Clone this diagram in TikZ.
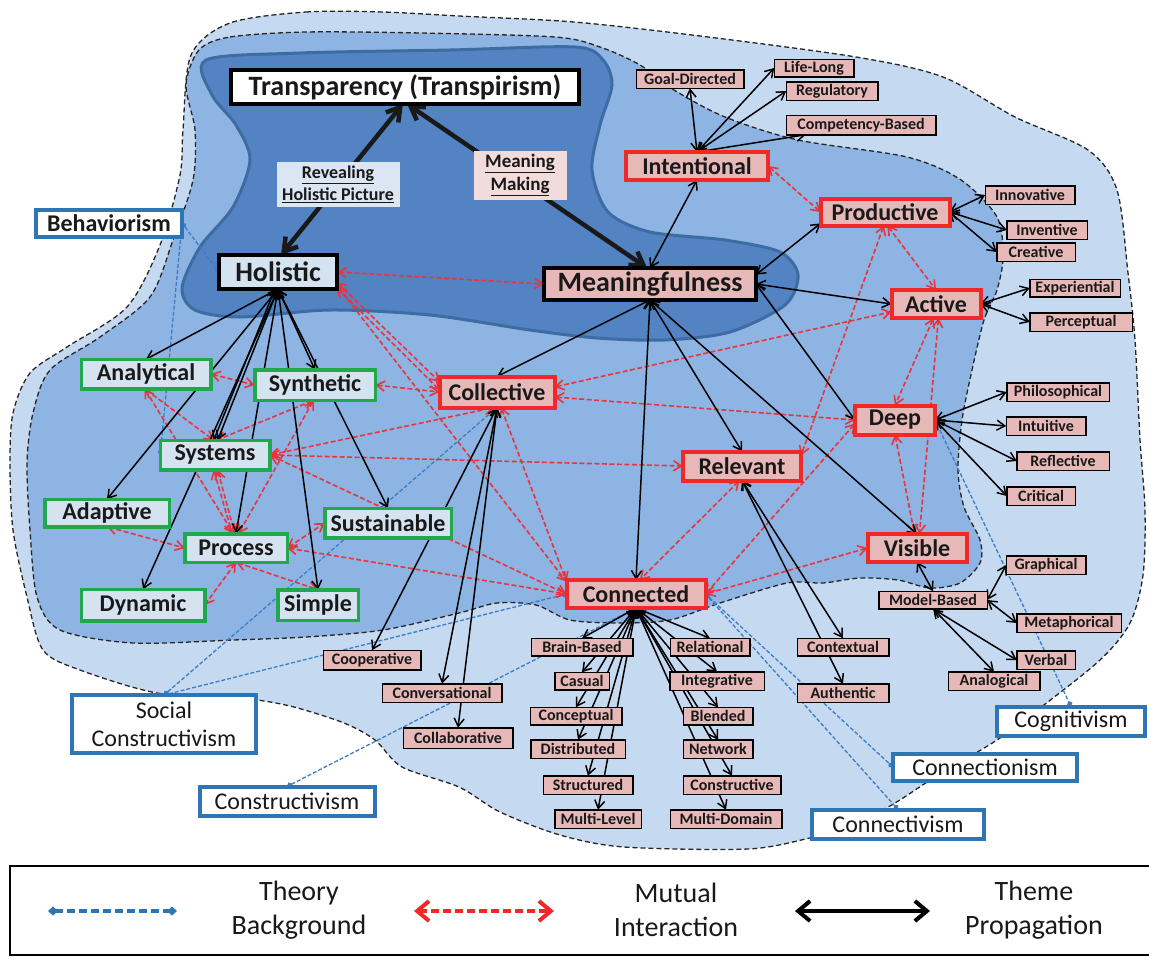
\documentclass[tikz,border=0pt]{standalone}
\usepackage{fontspec}
\setmainfont{Carlito}
\usetikzlibrary{arrows.meta}

\definecolor{outerblue}{HTML}{C5D9F1}
\definecolor{midblue}{HTML}{8EB4E3}
\definecolor{innerblue}{HTML}{5383C3}
\definecolor{inneredge}{HTML}{3D6CA3}
\definecolor{nodeblue}{HTML}{D5E3F0}
\definecolor{nodepink}{HTML}{E6B9B8}
\definecolor{lightpink}{HTML}{F2DCDB}
\definecolor{labelblue}{HTML}{DCE6F2}
\definecolor{grn}{HTML}{22A84C}
\definecolor{rd}{HTML}{F02828}
\definecolor{thblue}{HTML}{2E75B6}
\definecolor{dashred}{HTML}{E8343C}
\definecolor{dashblue}{HTML}{3A7EC6}

\pgfdeclarelayer{regions}
\pgfdeclarelayer{links}
\pgfsetlayers{regions,links,main}

\tikzset{
  every node/.style={inner sep=0pt, outer sep=0pt, align=center, text=black!90},
  sz/.style 2 args={minimum width=#1pt, minimum height=#2pt},
  bignode/.style={rectangle, draw=black, line width=4pt, font=\fontsize{28}{30}\selectfont\bfseries},
  rednode/.style={rectangle, draw=rd, fill=nodepink, line width=4pt, font=\fontsize{24}{26}\selectfont\bfseries},
  grnnode/.style={rectangle, draw=grn, fill=nodeblue, line width=3.5pt, font=\fontsize{24}{26}\selectfont\bfseries},
  smallnode/.style={rectangle, draw=black, fill=nodepink, line width=1.5pt, font=\fontsize{16}{18}\selectfont\bfseries},
  theorynode/.style={rectangle, draw=thblue, fill=white, line width=4pt, font=\fontsize{24}{28}\selectfont},
  pathlabel/.style={rectangle, font=\fontsize{18}{22}\selectfont\bfseries},
  legendtext/.style={font=\fontsize{28}{34}\selectfont},
  theme/.style={draw=black, line width=1.5pt, >={Straight Barb[length=8pt,width=10pt]}, <->},
  bigtheme/.style={draw=black!90, line width=4.5pt, >={Straight Barb[length=13pt,width=16pt]}, <->},
  mutual/.style={draw=dashred, line width=1.6pt, dash pattern=on 5pt off 2.5pt, >={Straight Barb[length=8pt,width=10pt]}, <->},
  theory/.style={draw=dashblue, line width=1.3pt, dash pattern=on 4pt off 2pt, >={Diamond[length=6pt,width=6pt]}, <->},
  region/.style={draw=black!85, line width=1.3pt, dash pattern=on 5pt off 3pt},
}

\begin{document}
\begin{tikzpicture}[x=1pt, y=-1pt]
\useasboundingbox (0,0) rectangle (1149,959);

% ---------- nested regions ----------
\begin{pgfonlayer}{regions}
\draw[region, fill=outerblue] plot[smooth cycle, tension=0.5] coordinates {
 (230,23) (306,12) (383,12) (459,16) (574,22) (700,36) (856,57) (943,77)
 (1015,117) (1088,150) (1117,190) (1128,273) (1135,340) (1140,440) (1145,510)
 (1143,575) (1130,623) (1100,660) (1040,708) (997,740) (935,777) (895,803)
 (850,828) (810,838) (748,849) (624,847) (560,835) (500,812) (459,787)
 (402,767) (375,740) (344,723) (290,706) (240,698) (157,693) (80,670)
 (43,650) (27,597) (13,530) (10,463) (13,413) (30,373) (67,347) (127,307)
 (160,245) (180,175) (183,130) (191,55)};
\draw[region, fill=midblue] plot[smooth cycle, tension=0.5] coordinates {
 (199,50) (230,37) (306,32) (421,33) (555,37) (600,47) (640,65) (674,90)
 (725,117) (798,140) (907,157) (961,180) (997,217) (1003,257) (997,290)
 (984,320) (972,370) (962,420) (958,470) (964,507) (980,540) (980,563)
 (960,583) (930,588) (898,580) (860,578) (823,583) (787,583) (720,603)
 (670,620) (620,623) (570,620) (536,605) (497,603) (459,613) (383,630)
 (306,637) (233,640) (133,643) (60,630) (37,597) (30,530) (27,463)
 (33,413) (50,370) (100,337) (150,297) (173,240) (193,180) (195,130) (186,85)};
\draw[draw=inneredge, line width=3pt, fill=innerblue] plot[smooth cycle, tension=0.5] coordinates {
 (206,60) (300,53) (450,50) (575,47) (603,60) (612,85) (600,125) (592,170)
 (608,212) (650,232) (725,240) (780,252) (798,275) (785,305) (730,332)
 (665,340) (597,338) (530,330) (430,315) (330,310) (240,317) (195,310)
 (182,288) (200,247) (233,207) (250,160) (236,125) (212,95)};
\end{pgfonlayer}

% ---------- core themes ----------
\node[bignode, fill=white, sz={348}{34}] (transp) at (405,87) {Transparency (Transpirism)};
\node[bignode, fill=nodeblue, sz={118}{34}] (holistic) at (278,272) {Holistic};
\node[bignode, fill=nodepink, sz={212}{32}] (meaning) at (650,284) {Meaningfulness};
\node[pathlabel, fill=labelblue, sz={123}{45}] (reveal) at (338,184) {\underline{Revealing}\\\underline{Holistic Picture}};
\node[pathlabel, fill=lightpink, sz={93}{49}, font=\fontsize{19}{23}\selectfont\bfseries] (mmaking) at (520,175) {\underline{Meaning}\\\underline{Making}};

% ---------- meaningfulness themes ----------
\node[rednode, sz={142}{28}] (intentional) at (697,166) {Intentional};
\node[rednode, sz={129}{27}] (productive) at (885,212) {Productive};
\node[rednode, sz={89}{28}] (active) at (936,304) {Active};
\node[rednode, sz={115}{31}] (collective) at (497,392) {Collective};
\node[rednode, sz={118}{29}] (relevant) at (742,466) {Relevant};
\node[rednode, sz={80}{29}] (deep) at (895,420) {Deep};
\node[rednode, sz={99}{28}] (visible) at (917,548) {Visible};
\node[rednode, sz={139}{28}] (connected) at (636,594) {Connected};

% ---------- holistic themes ----------
\node[grnnode, sz={129.5}{29.5}] (analytical) at (146,374) {Analytical};
\node[grnnode, sz={120.5}{30.5}] (synthetic) at (315,385) {Synthetic};
\node[grnnode, sz={109.5}{29.5}] (systems) at (215,455) {Systems};
\node[grnnode, sz={124.5}{27.5}] (adaptive) at (107,513) {Adaptive};
\node[grnnode, sz={102.5}{28.5}] (process) at (236,548) {Process};
\node[grnnode, sz={126.5}{29.5}] (sustainable) at (388,523) {Sustainable};
\node[grnnode, sz={123.5}{31.5}] (dynamic) at (143,605) {Dynamic};
\node[grnnode, sz={80.5}{30.5}] (simple) at (318,605) {Simple};

% ---------- learning theories ----------
\node[theorynode, sz={146}{27}, font=\fontsize{24}{28}\selectfont\bfseries] (behaviorism) at (109,223) {Behaviorism};
\node[theorynode, sz={184}{58}] (socialc) at (164,724) {Social\\Constructivism};
\node[theorynode, sz={175}{29}] (constructivism) at (287,801) {Constructivism};
\node[theorynode, sz={184}{27}] (connectionism) at (985,767) {Connectionism};
\node[theorynode, sz={172}{29}] (connectivism) at (898,824) {Connectivism};
\node[theorynode, sz={148}{29}] (cognitivism) at (1071,721) {Cognitivism};

% ---------- sub-themes ----------
\node[smallnode, sz={107.5}{18.5}] (goal) at (690,79) {Goal-Directed};
\node[smallnode, sz={79.5}{17.5}] (lifelong) at (814,68) {Life-Long};
\node[smallnode, sz={91.5}{18.5}] (regulatory) at (832,91) {Regulatory};
\node[smallnode, sz={149.5}{19.5}] (competency) at (861,125) {Competency-Based};
\node[smallnode, sz={89.5}{18.5}] (innovative) at (1030,195) {Innovative};
\node[smallnode, sz={80.5}{18.5}] (inventive) at (1047,230) {Inventive};
\node[smallnode, sz={78.5}{18.5}] (creative) at (1036,252) {Creative};
\node[smallnode, sz={90.5}{17.5}] (experiential) at (1075,288) {Experiential};
\node[smallnode, sz={102.5}{18.5}] (perceptual) at (1081,322) {Perceptual};
\node[smallnode, sz={102.5}{18.5}] (philosophical) at (1058,392) {Philosophical};
\node[smallnode, sz={79.5}{18.5}] (intuitive) at (1046,426) {Intuitive};
\node[smallnode, sz={92.5}{18.5}] (reflective) at (1063,461) {Reflective};
\node[smallnode, sz={68.5}{18.5}] (critical) at (1041,496) {Critical};
\node[smallnode, sz={79.5}{18.5}] (graphical) at (1046,565) {Graphical};
\node[smallnode, sz={108.5}{17.5}] (modelbased) at (933,600) {Model-Based};
\node[smallnode, sz={104.5}{18.5}] (metaphorical) at (1069,623) {Metaphorical};
\node[smallnode, sz={58.5}{18.5}] (verbal) at (1046,660) {Verbal};
\node[smallnode, sz={91.5}{18.5}] (analogical) at (994,681) {Analogical};
\node[smallnode, sz={91.5}{17.5}] (contextual) at (843,647) {Contextual};
\node[smallnode, sz={91.5}{18.5}] (authentic) at (843,693) {Authentic};
\node[smallnode, sz={101.5}{17.5}] (brainbased) at (582,647) {Brain-Based};
\node[smallnode, sz={54.5}{17.5}] (casual) at (582,681) {Casual};
\node[smallnode, sz={91.5}{17.5}] (conceptual) at (576,716) {Conceptual};
\node[smallnode, sz={94.5}{18.5}] (distributed) at (578,749) {Distributed};
\node[smallnode, sz={89.5}{18.5}] (structured) at (588,785) {Structured};
\node[smallnode, sz={86.5}{18.5}] (multilevel) at (598,819) {Multi-Level};
\node[smallnode, sz={79.5}{17.5}] (relational) at (710,647) {Relational};
\node[smallnode, sz={94.5}{18.5}] (integrative) at (717,681) {Integrative};
\node[smallnode, sz={69.5}{17.5}] (blended) at (718,716) {Blended};
\node[smallnode, sz={69.5}{18.5}] (network) at (718,749) {Network};
\node[smallnode, sz={97.5}{18.5}] (constructive) at (732,785) {Constructive};
\node[smallnode, sz={111.5}{18.5}] (multidomain) at (726,819) {Multi-Domain};
\node[smallnode, sz={97.5}{19.5}] (cooperative) at (372,660) {Cooperative};
\node[smallnode, sz={119.5}{18.5}] (conversational) at (442,693) {Conversational};
\node[smallnode, sz={109.5}{20.5}] (collaborative) at (458,738) {Collaborative};

% ---------- connectors ----------
\begin{pgfonlayer}{links}
% main propagation paths
\draw[bigtheme] (holistic.80) -- (transp.-97);
\draw[bigtheme] (meaning.100) -- (transp.-83);

% theory background
\draw[theory] (behaviorism.east) -- (holistic.west);
\draw[theory] (behaviorism.east) -- (systems.west);
\draw[theory] (socialc.north) -- (collective.south);
\draw[theory] (socialc.north) -- (connected.west);
\draw[theory] (constructivism.north) -- (connected.south);
\draw[theory] (connected.east) -- (connectionism.west);
\draw[theory] (connected.east) -- (connectivism.north);
\draw[theory] (deep.east) -- (cognitivism.north);

% mutual interaction
\draw[mutual] (holistic.east) -- (meaning.west);
\draw[mutual] (holistic.-10) -- (collective.170);
\draw[mutual] (holistic.-15) -- (collective.178);
\draw[mutual] (holistic.-13) -- (connected.170);
\draw[mutual] (analytical.east) -- (synthetic.west);
\draw[mutual] (synthetic.east) -- (collective.west);
\draw[mutual] (analytical.-95) -- (systems.95);
\draw[mutual] (analytical.-95) -- (process.100);
\draw[mutual] (synthetic.-95) -- (systems.85);
\draw[mutual] (synthetic.-95) -- (process.80);
\draw[mutual] (systems.-95) -- (process.105);
\draw[mutual] (systems.-80) -- (process.95);
\draw[mutual] (systems.east) -- (collective.-100);
\draw[mutual] (systems.east) -- (relevant.west);
\draw[mutual] (systems.east) -- (connected.west);
\draw[mutual] (adaptive.south) -- (process.west);
\draw[mutual] (process.south) -- (dynamic.east);
\draw[mutual] (process.south) -- (simple.north);
\draw[mutual] (process.east) -- (sustainable.west);
\draw[mutual] (process.east) -- (connected.west);
\draw[mutual] (collective.-75) -- (connected.170);
\draw[mutual] (collective.5) -- (active.190);
\draw[mutual] (collective.-5) -- (deep.west);
\draw[mutual] (intentional.east) -- (productive.west);
\draw[mutual] (productive.-80) -- (active.north);
\draw[mutual] (productive.-95) -- (relevant.10);
\draw[mutual] (active.-100) -- (deep.north);
\draw[mutual] (active.-80) -- (visible.80);
\draw[mutual] (deep.south) -- (visible.100);
\draw[mutual] (deep.-175) -- (connected.east);
\draw[mutual] (relevant.-100) -- (connected.75);
\draw[mutual] (visible.west) -- (connected.east);

% theme propagation from Holistic
\draw[theme] (holistic.south) -- (analytical.north);
\draw[theme] (holistic.south) -- (systems.80);
\draw[theme] (holistic.-100) -- (systems.95);
\draw[theme] (holistic.south) -- (adaptive.north);
\draw[theme] (holistic.south) -- (synthetic.north);
\draw[theme] (holistic.south) -- (process.north);
\draw[theme] (holistic.south) -- (simple.north);
\draw[theme] (holistic.south) -- (sustainable.north);
\draw[theme] (holistic.south) -- (dynamic.north);

% theme propagation from Meaningfulness
\draw[theme] (meaning.south) -- (collective.north);
\draw[theme] (meaning.south) -- (connected.north);
\draw[theme] (meaning.south) -- (relevant.north);
\draw[theme] (meaning.south) -- (visible.north);
\draw[theme] (meaning.east) -- (deep.west);
\draw[theme] (meaning.east) -- (active.west);
\draw[theme] (meaning.5) -- (productive.190);
\draw[theme] (meaning.north) -- (intentional.south);

% sub-theme fans
\draw[theme] (intentional.north) -- (goal.south);
\draw[theme] (intentional.north) -- (lifelong.west);
\draw[theme] (intentional.north) -- (regulatory.west);
\draw[theme] (intentional.north) -- (competency.190);
\draw[theme] (productive.east) -- (innovative.west);
\draw[theme] (productive.east) -- (inventive.west);
\draw[theme] (productive.east) -- (creative.west);
\draw[theme] (active.east) -- (experiential.west);
\draw[theme] (active.east) -- (perceptual.west);
\draw[theme] (deep.east) -- (philosophical.west);
\draw[theme] (deep.east) -- (intuitive.west);
\draw[theme] (deep.east) -- (reflective.west);
\draw[theme] (deep.east) -- (critical.west);
\draw[theme] (visible.south) -- (modelbased.north);
\draw[theme] (modelbased.east) -- (graphical.west);
\draw[theme] (modelbased.east) -- (metaphorical.west);
\draw[theme] (modelbased.south) -- (verbal.west);
\draw[theme] (modelbased.south) -- (analogical.north);
\draw[theme] (relevant.south) -- (contextual.north);
\draw[theme] (relevant.south) -- (authentic.north);
\draw[theme] (collective.south) -- (cooperative.north);
\draw[theme] (collective.south) -- (conversational.north);
\draw[theme] (collective.south) -- (collaborative.north);
\foreach \t in {brainbased,casual,conceptual,distributed,structured,multilevel,
                relational,integrative,blended,network,constructive,multidomain}
  \draw[theme] (connected.south) -- (\t.north);
\end{pgfonlayer}

% ---------- legend ----------
\begin{pgfonlayer}{regions}
\draw[line width=1.5pt, fill=white] (10,866) rectangle (1155,955);
\end{pgfonlayer}
\coordinate (lb1) at (48,911);
\coordinate (lb2) at (177,911);
\coordinate (lr1) at (414,911);
\coordinate (lr2) at (554,911);
\coordinate (lk1) at (795,911);
\coordinate (lk2) at (930,911);
\draw[draw=thblue, line width=4pt, dash pattern=on 8pt off 4pt, >={Diamond[length=10pt,width=9pt]}, <->] (lb1) -- (lb2);
\draw[draw=rd, line width=4pt, dash pattern=on 8pt off 4pt, >={Straight Barb[length=12pt,width=20pt]}, <->] (lr1) -- (lr2);
\draw[draw=black, line width=4pt, >={Straight Barb[length=12pt,width=20pt]}, <->] (lk1) -- (lk2);
\node[legendtext] (lg1) at (299,910) {Theory\\Background};
\node[legendtext] (lg2) at (676,910) {Mutual\\Interaction};
\node[legendtext] (lg3) at (1034,910) {Theme\\Propagation};
\end{tikzpicture}
\end{document}
